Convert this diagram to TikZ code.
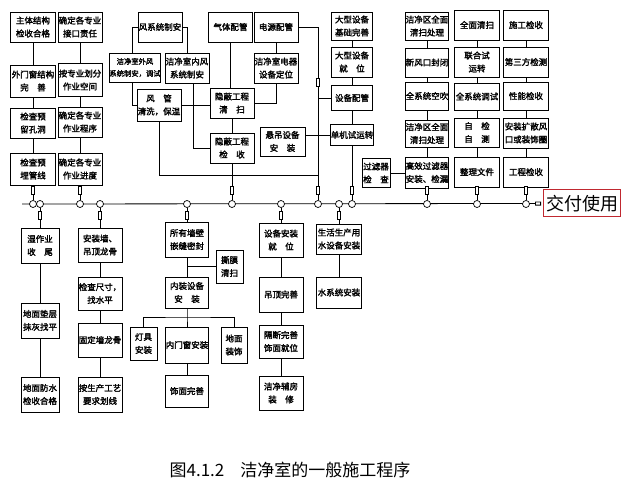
\documentclass[tikz,border=0pt]{standalone}
\usepackage{fontspec}
\usepackage{tikz}
\usetikzlibrary{arrows.meta}
\newfontfamily\cjk{Noto Sans CJK SC}
\newfontfamily\cjkb{Noto Sans CJK SC}[FakeBold=2]
\definecolor{payRed}{RGB}{192,40,48}

\begin{document}
\begin{tikzpicture}[x=1pt, y=-1pt,
  box/.style={draw, line width=.8pt, align=center, inner sep=0pt,
    minimum width=44pt, minimum height=30pt,
    font=\cjkb\fontsize{8.5}{13}\selectfont},
  dot/.style={circle, draw, fill=white, line width=.7pt, minimum size=7pt, inner sep=0pt},
  fuse/.style={draw, fill=white, line width=.6pt, minimum width=3pt, minimum height=8pt, inner sep=0pt},
  link/.style={line width=.8pt},
]
  \useasboundingbox (0,0) rectangle (636,502);

  \node[box, minimum width=45pt] (a1) at (33,27) {主体结构\\检收合格};
  \node[box, minimum width=45pt, minimum height=32pt] (a2) at (33,81) {外门窗结构\\完　善};
  \node[box, minimum width=45pt] (a3) at (33,123) {检查预\\留孔洞};
  \node[box, minimum width=45pt, minimum height=32pt] (a4) at (33,169) {检查预\\埋管线};
  \node[box] (b1) at (80,27) {确定各专业\\接口责任};
  \node[box, minimum height=33pt] (b2) at (80,80) {按专业划分\\作业空间};
  \node[box] (b3) at (80,122) {确定各专业\\作业程序};
  \node[box, minimum height=32pt] (b4) at (80,169) {确定各专业\\作业进度};

  \node[box] (c0) at (160,27) {风系统制安};
  \node[box, minimum width=51pt, minimum height=29pt,
    font=\cjkb\fontsize{7.3}{12}\selectfont] (c1) at (135,67.5) {洁净室外风\\系统制安，调试};
  \node[box] (c2) at (187,68) {洁净室内风\\系统制安};
  \node[box, minimum height=32pt] (c3) at (159,105) {风　管\\清洗，保温};
  \node[box] (d0) at (230.5,27) {气体配管};
  \node[box] (d1) at (276,27) {电源配管};
  \node[box] (d2) at (276,68) {洁净室电器\\设备定位};
  \node[box] (d3) at (232,103) {隐蔽工程\\清　扫};
  \node[box] (d4) at (232,148) {隐蔽工程\\检　收};
  \node[box, minimum width=45pt, minimum height=29pt] (d5) at (282.5,141.5) {悬吊设备\\安　装};

  \node[box, minimum width=41pt, minimum height=28pt] (e1) at (352,26) {大型设备\\基础完善};
  \node[box, minimum width=41pt] (e2) at (352,62) {大型设备\\就　位};
  \node[box, minimum width=41pt, minimum height=25pt] (e3) at (352,98) {设备配管};
  \node[box, minimum width=41pt, minimum height=21pt] (e4) at (352,135) {单机试运转};
  \node[box, minimum width=28pt, minimum height=29pt] (f0) at (376,173) {过滤器\\检　查};

  \node[box, minimum width=43pt, minimum height=28pt] (g1) at (427,26) {洁净区全面\\清扫处理};
  \node[box, minimum width=43pt, minimum height=29pt] (g2) at (427,62.5) {新风口封闭};
  \node[box, minimum width=43pt, minimum height=28pt] (g3) at (427,96) {全系统空吹};
  \node[box, minimum width=43pt, minimum height=27pt] (g4) at (427,133.5) {洁净区全面\\清扫处理};
  \node[box, minimum width=43pt, minimum height=31pt] (g5) at (427,172.5) {高效过滤器\\安装、检漏};

  \node[box, minimum width=45pt] (h1) at (477,25) {全面清扫};
  \node[box, minimum width=45pt] (h2) at (477,62) {联合试\\运转};
  \node[box, minimum width=45pt, minimum height=27pt] (h3) at (477,96.5) {全系统调试};
  \node[box, minimum width=45pt, minimum height=29pt] (h4) at (477,132.5) {自　检\\自　测};
  \node[box, minimum width=45pt] (h5) at (477,172) {整理文件};

  \node[box, minimum width=45pt] (k1) at (526,25) {施工检收};
  \node[box, minimum width=45pt] (k2) at (526,62) {第三方检测};
  \node[box, minimum width=45pt, minimum height=28pt] (k3) at (526,96) {性能检收};
  \node[box, minimum width=45pt] (k4) at (526,133) {安装扩散风\\口或装饰圈};
  \node[box, minimum width=45pt] (k5) at (526,172) {工程检收};

  \node[draw=payRed, line width=1pt, minimum width=77pt, minimum height=27pt, inner sep=1pt,
    font=\cjk\fontsize{18}{18}\selectfont] (pay) at (582,203.5) {交付使用};

  \node[box, minimum width=38pt, minimum height=35pt] (m1) at (40,245.5) {湿作业\\收　尾};
  \node[box, minimum width=38pt, minimum height=35pt] (m2) at (40,320.5) {地面垫层\\抹灰找平};
  \node[box, minimum width=38pt, minimum height=35pt] (m3) at (40,394.5) {地面防水\\检收合格};
  \node[box, minimum height=34pt] (n1) at (100,245) {安装墙、\\吊顶龙骨};
  \node[box, minimum height=33pt] (n2) at (100,293.5) {检查尺寸，\\找水平};
  \node[box, minimum height=34pt] (n3) at (100,340) {固定墙龙骨};
  \node[box, minimum height=35pt] (n4) at (100,394.5) {按生产工艺\\要求划线};

  \node[box, minimum width=43pt, minimum height=35pt] (p1) at (187,239.5) {所有墙壁\\嵌缝密封};
  \node[box, minimum width=27pt, minimum height=33pt] (p2) at (229.5,266.5) {撕膜\\清扫};
  \node[box, minimum width=43pt, minimum height=31pt] (p3) at (187,292.5) {内装设备\\安　装};
  \node[box, minimum width=27pt, minimum height=33pt] (p4) at (143.5,343.5) {灯具\\安装};
  \node[box, minimum width=43pt, minimum height=36pt] (p5) at (187,345) {内门窗安装};
  \node[box, minimum width=26pt, minimum height=36pt] (p6) at (234,345) {地面\\装饰};
  \node[box, minimum width=43pt, minimum height=32pt] (p7) at (187,391) {饰面完善};

  \node[box, minimum height=34pt] (q1) at (281,240) {设备安装\\就　位};
  \node[box, minimum height=35pt] (q2) at (281,294.5) {吊顶完善};
  \node[box, minimum height=33pt] (q3) at (281,341.5) {隔断完善\\饰面就位};
  \node[box, minimum height=34pt] (q4) at (281,393) {洁净辅房\\装　修};
  \node[box, minimum width=45pt] (r1) at (339,239) {生活生产用\\水设备安装};
  \node[box, minimum width=45pt, minimum height=31pt] (r2) at (339,292.5) {水系统安装};

  \node[font=\cjk\fontsize{17}{17}\selectfont] (cap) at (290,470) {图4.1.2\hspace{16pt}洁净室的一般施工程序};

  \coordinate (lstart) at (22,204);
  \coordinate (tr) at (318,27);
  \coordinate (jn) at (318,175);
  \coordinate (br) at (187,317);

  \draw[link, shorten >=2pt, -{Rectangle[open, length=6pt, width=4pt]}] (lstart) -- (pay.west);
  \foreach \x in {33,40,80,100,187,232,281,318,339,352,427,477,526}
    \node[dot] (o\x) at (\x,204) {};

  \draw[link] (a1) -- (a2) -- (a3) -- (a4) -- (o33);
  \draw[link] (b1) -- (b2) -- (b3) -- (b4) -- (o80);
  \draw[link] (c0.west) -| ([xshift=-3pt]c1.north);
  \draw[link] (c0.east) -| (c2.north);
  \draw[link] ([xshift=-3pt]c1.south) |- (c3.west);
  \draw[link] ([xshift=6pt]c2.south) |- (d4.west);
  \draw[link] (c3.east) -- (c3.east -| d3.west);
  \draw[link] (c3.south) |- (jn);
  \draw[link] (d0.south) -- (d0.south |- d3.north);
  \draw[link] (d1) -- (d2);
  \draw[link] (d2.south) |- (d3.east);
  \draw[link] (d3) -- (d4) -- (o232);
  \draw[link] (d1.east) -- (tr) -- (o318);
  \draw[link] (e3.west) -- (e3.west -| tr);
  \draw[link] (e4.west) -- (e4.west -| d5.east);
  \draw[link] (e1) -- (e2) -- (e3) -- (e4) -- (o352);
  \draw[link] (f0.east) -- (f0.east -| g5.west);
  \draw[link] (g1) -- (g2) -- (g3) -- (g4) -- (g5) -- (o427);
  \draw[link] (h1) -- (h2) -- (h3) -- (h4) -- (h5) -- (o477);
  \draw[link] (k1) -- (k2) -- (k3) -- (k4) -- (k5) -- (o526);

  \draw[link] (o40) -- (m1) -- (m2) -- (m3);
  \draw[link] (o100) -- (n1) -- (n2) -- (n3) -- (n4);
  \draw[link] (o187) -- (p1) -- (p3) -- (br) -- (p5) -- (p7);
  \draw[link] (p2.west) -- (p2.west -| p1.south);
  \draw[link] (p4.north) |- (br) -| (p6.north);
  \draw[link] (o281) -- (q1) -- (q2) -- (q3) -- (q4);
  \draw[link] (o339) -- (r1) -- (r2);

  \foreach \x in {33,80,232,318,352,427,477,526}
    \node[fuse] (u\x) at (\x,190) {};
  \node[fuse] (u82) at (318,82) {};
  \foreach \x in {40,100,187,281,339}
    \node[fuse] (v\x) at (\x,215) {};
\end{tikzpicture}
\end{document}
